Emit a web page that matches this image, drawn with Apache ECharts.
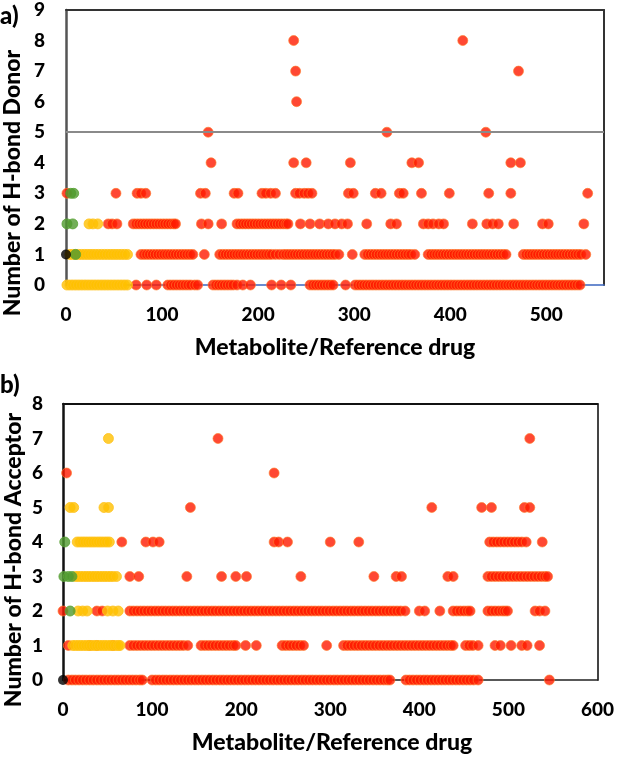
<!DOCTYPE html>
<html><head><meta charset="utf-8">
<script src="https://cdn.jsdelivr.net/npm/echarts@6/dist/echarts.min.js"></script>
<style>html,body{margin:0;padding:0;background:#fff}#c{width:617px;height:758px}</style>
</head><body><div id="c"></div>
<script>
// ---------- Panel a: Number of H-bond Donor (x = metabolite index) ----------
const donorRed0 = [73,84,94,106,109,112,115,118,121,124,127,130,134,137,153,156,159,162,165,168,171,174,178,184,192,214,224,234,254,257,260,263,266,269,272,275,278,291,301,304,307,310,313,316,319,322,325,328,331,334,337,340,343,346,349,352,355,358,361,364,367,370,373,376,379,382,385,388,391,394,397,400,403,406,409,412,415,418,421,424,427,430,433,436,439,442,445,448,451,454,457,460,463,466,469,472,475,478,481,484,487,490,493,496,499,502,505,508,511,514,517,520,523,526,529,532,535];
const donorRed1 = [78,81,84,87,90,93,96,99,102,105,108,111,114,117,120,123,126,129,132,144,160,163,166,169,172,175,178,181,184,187,190,193,196,199,202,205,208,211,214,218,222,226,229,232,235,238,241,244,247,250,253,256,259,262,265,268,271,274,277,280,284,298,311,314,317,320,323,326,329,332,335,338,341,344,347,350,353,356,359,363,377,380,383,386,389,392,395,398,401,404,407,410,413,416,419,422,425,428,431,434,437,440,443,446,449,452,455,458,476,479,482,485,488,491,494,497,500,503,506,509,512,515,518,521,524,527,530,533,536,541];
const donorRed2 = [44,48,53,70,73,76,79,82,85,88,91,94,97,100,103,106,109,112,114,141,148,162,178,181,184,187,190,193,196,199,202,205,208,211,214,217,220,223,226,229,231,244,254,264,273,280,287,293,313,338,344,372,377,382,388,393,423,438,444,450,466,496,502,539];
const donorRed3 = [1,52,74,78,83,140,145,175,179,204,208,213,218,239,243,248,252,256,294,299,322,328,347,351,370,399,440,463,543];
const donorRed4 = [151,237,250,296,360,367,463,473];
const donorRed5 = [148,334,437];
const donorRed6 = [240];
const donorRed7 = [239,471];
const donorRed8 = [237,413];
const donorYellow0 = [1,4,7,10,13,16,19,22,25,28,31,34,37,40,43,46,49,52,55,58,61,64];
const donorYellow1 = [4,7,10,13,16,19,22,25,28,31,34,37,40,43,46,49,52,55,58,61,64];
const donorYellow2 = [24,28,33];
const donorGreen1 = [10];
const donorGreen2 = [1,7];
const donorGreen3 = [5,8];
const donorBlack1 = [0];
const donorLimit = 5;

// ---------- Panel b: Number of H-bond Acceptor ----------
const accRed0 = [6,10,14,18,22,26,30,34,38,42,46,50,54,58,62,66,70,74,78,82,86,89,100,104,108,112,116,120,124,128,132,136,140,144,148,152,156,160,164,168,172,176,180,184,188,192,196,200,204,208,212,216,220,224,228,232,236,240,244,248,252,256,260,264,268,272,276,280,284,288,292,296,300,304,308,312,316,320,324,328,332,336,340,344,348,352,356,360,364,367,385,389,393,397,401,405,409,413,417,421,425,429,433,437,441,445,449,453,457,461,466,546];
const accRed1 = [6,30,38,56,75,79,83,87,91,95,99,103,107,111,115,119,123,127,131,135,140,155,159,163,167,171,175,179,183,187,191,194,205,217,246,250,254,258,262,266,270,296,315,319,323,327,331,335,339,343,347,351,355,359,363,367,371,375,379,383,387,391,395,399,403,407,411,415,419,423,427,431,435,438,452,456,460,466,485,491,503,515,521,535];
const accRed2 = [0,38,44,75,79,83,87,91,95,99,103,107,111,115,119,123,127,131,135,139,143,147,151,155,159,163,167,171,175,179,183,187,191,195,199,203,207,211,215,219,223,227,231,235,239,243,247,251,255,259,263,267,271,275,279,283,287,291,295,299,303,307,311,315,319,323,327,331,335,339,343,347,351,355,359,363,367,371,375,379,384,400,406,423,438,442,446,450,454,457,477,481,485,489,493,496,499,530,535,541];
const accRed3 = [75,85,139,178,194,206,267,349,374,380,432,438,477,481,485,489,493,497,501,505,509,513,517,521,525,529,533,537,541,544];
const accRed4 = [66,93,101,108,237,242,252,300,332,479,483,487,491,495,499,503,507,511,515,520,538];
const accRed5 = [143,414,470,481,518,524];
const accRed6 = [4,237];
const accRed7 = [174,524];
const accYellow1 = [11,14,17,20,23,26,29,32,35,38,41,44,47,50,53,56,59,62,64];
const accYellow2 = [17,22,27,50,56,62];
const accYellow3 = [14,17,20,23,26,29,32,35,38,41,44,47,50,53,56,60];
const accYellow4 = [16,19,22,25,28,31,34,37,40,43,46,49,52];
const accYellow5 = [8,12,46,51];
const accYellow7 = [51];
const accGreen2 = [8];
const accGreen3 = [1,6,10];
const accGreen4 = [2];
const accBlack0 = [0];

// tick settings
const donorXTicks = {min: 0, max: 560, interval: 100};
const donorYTicks = {min: 0, max: 9, interval: 1};
const accXTicks = {min: 0, max: 600, interval: 100};
const accYTicks = {min: 0, max: 8, interval: 1};

function pts(rows) {
  const out = [];
  rows.forEach(([y, xs]) => xs.forEach(x => out.push([x, y])));
  return out;
}

const donorRedData = pts([[0,donorRed0],[1,donorRed1],[2,donorRed2],[3,donorRed3],[4,donorRed4],[5,donorRed5],[6,donorRed6],[7,donorRed7],[8,donorRed8]]);
const donorYellowData = pts([[0,donorYellow0],[1,donorYellow1],[2,donorYellow2]]);
const donorGreenData = pts([[1,donorGreen1],[2,donorGreen2],[3,donorGreen3]]);
const donorBlackData = pts([[1,donorBlack1]]);
const accRedData = pts([[0,accRed0],[1,accRed1],[2,accRed2],[3,accRed3],[4,accRed4],[5,accRed5],[6,accRed6],[7,accRed7]]);
const accYellowData = pts([[1,accYellow1],[2,accYellow2],[3,accYellow3],[4,accYellow4],[5,accYellow5],[7,accYellow7]]);
const accGreenData = pts([[2,accGreen2],[3,accGreen3],[4,accGreen4]]);
const accBlackData = pts([[0,accBlack0]]);

const FONT = 'Lato, "Open Sans", sans-serif';
const tickLabel = (margin) => ({fontFamily: FONT, fontWeight: 900, fontSize: 19, color: '#000', margin: margin});

function xAxes(grid, t, bottomColor, bottomWidth, topColor, showMax) {
  return [
    {gridIndex: grid, type: 'value', position: 'bottom', min: t.min, max: t.max, interval: t.interval,
     axisLine: {show: true, onZero: false, lineStyle: {color: bottomColor, width: bottomWidth}},
     axisTick: {show: false}, splitLine: {show: false},
     axisLabel: Object.assign(tickLabel(20), {showMaxLabel: showMax})},
    {gridIndex: grid, type: 'value', position: 'top', min: t.min, max: t.max,
     axisLine: {show: true, onZero: false, lineStyle: {color: topColor, width: 2}},
     axisTick: {show: false}, splitLine: {show: false}, axisLabel: {show: false}}
  ];
}
function yAxes(grid, t, leftColor, rightColor, margin) {
  return [
    {gridIndex: grid, type: 'value', position: 'left', min: t.min, max: t.max, interval: t.interval,
     axisLine: {show: true, onZero: false, lineStyle: {color: leftColor, width: 2.5}},
     axisTick: {show: false}, splitLine: {show: false}, axisLabel: tickLabel(margin)},
    {gridIndex: grid, type: 'value', position: 'right', min: t.min, max: t.max,
     axisLine: {show: true, onZero: false, lineStyle: {color: rightColor, width: 2}},
     axisTick: {show: false}, splitLine: {show: false}, axisLabel: {show: false}}
  ];
}

const RED = {color: '#ff1a00', borderColor: '#ff7a2a', borderWidth: 0.8};
const YEL = {color: '#ffc000', borderColor: '#ffc21a', borderWidth: 1};
const GRN = {color: '#4f9a2e', borderColor: '#5aa336', borderWidth: 1};
const BLK = {color: '#000000'};

function sc(xi, yi, data, style, z) {
  return {type: 'scatter', xAxisIndex: xi, yAxisIndex: yi, data: data, symbolSize: 10,
          itemStyle: style, z: z, silent: true};
}

const option = {
  animation: false,
  backgroundColor: '#fff',
  grid: [
    {left: 66, right: 13, top: 10, height: 275},
    {left: 63, right: 17, top: 404, height: 276}
  ],
  xAxis: [].concat(
    xAxes(0, donorXTicks, '#3b65c0', 1.5, '#333', false),
    xAxes(1, accXTicks, '#222', 1.5, '#111', true)
  ),
  yAxis: [].concat(
    yAxes(0, donorYTicks, '#555', '#333', 21),
    yAxes(1, accYTicks, '#111', '#444', 20)
  ),
  series: [
    {type: 'scatter', xAxisIndex: 0, yAxisIndex: 0, data: [], z: 1, silent: true,
     markLine: {silent: true, symbol: 'none', label: {show: false},
                lineStyle: {color: '#8a8a8a', width: 2, type: 'solid'},
                data: [{yAxis: donorLimit}]}},
    sc(0, 0, donorRedData, RED, 2),
    sc(0, 0, donorYellowData, YEL, 3),
    sc(0, 0, donorGreenData, GRN, 4),
    sc(0, 0, donorBlackData, BLK, 5),
    sc(2, 2, accRedData, RED, 2),
    sc(2, 2, accYellowData, YEL, 3),
    sc(2, 2, accGreenData, GRN, 4),
    sc(2, 2, accBlackData, BLK, 5)
  ],
  graphic: [
    {type: 'text', x: 0, y: 16, style: {text: 'a)', font: '900 24px ' + FONT, fill: '#000', textVerticalAlign: 'middle'}},
    {type: 'text', x: 0, y: 385, style: {text: 'b)', font: '900 24px ' + FONT, fill: '#000', textVerticalAlign: 'middle'}},
    {type: 'text', x: 13, y: 183, rotation: Math.PI / 2,
     style: {text: 'Number of H-bond Donor', font: '900 23px ' + FONT, fill: '#000', textAlign: 'center', textVerticalAlign: 'middle'}},
    {type: 'text', x: 14, y: 560, rotation: Math.PI / 2,
     style: {text: 'Number of H-bond Acceptor', font: '900 23px ' + FONT, fill: '#000', textAlign: 'center', textVerticalAlign: 'middle'}},
    {type: 'text', x: 335, y: 348,
     style: {text: 'Metabolite/Reference drug', font: '900 23px ' + FONT, fill: '#000', textAlign: 'center', textVerticalAlign: 'middle'}},
    {type: 'text', x: 332, y: 743,
     style: {text: 'Metabolite/Reference drug', font: '900 23px ' + FONT, fill: '#000', textAlign: 'center', textVerticalAlign: 'middle'}}
  ]
};

const chart = echarts.init(document.getElementById('c'), null, {renderer: 'canvas'});
chart.setOption(option);
</script>
</body></html>
